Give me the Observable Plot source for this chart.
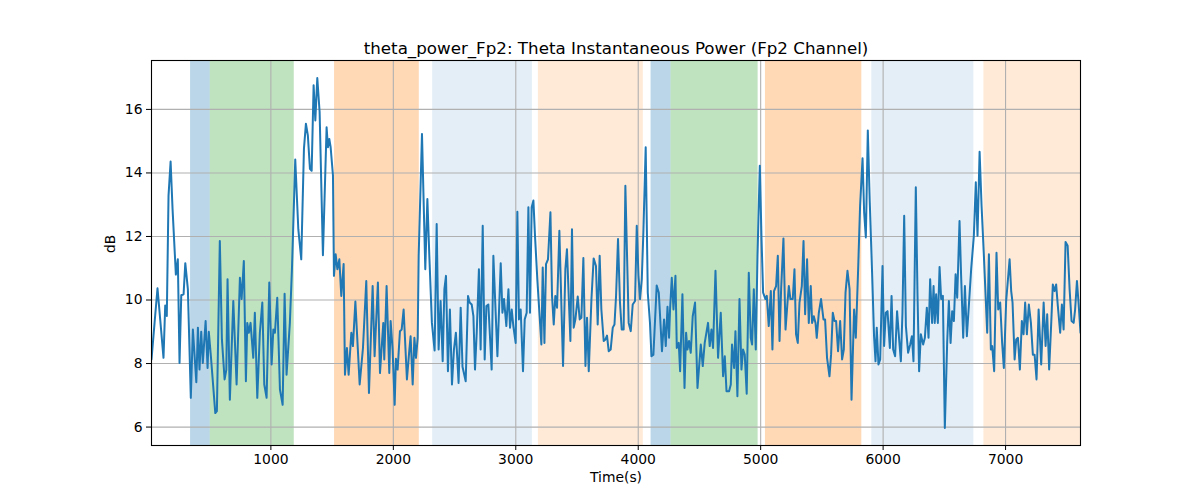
<!DOCTYPE html>
<html><head><meta charset="utf-8">
<script src="https://cdn.jsdelivr.net/npm/d3@7"></script>
<script src="https://cdn.jsdelivr.net/npm/@observablehq/plot@0.6"></script>
<style>body{margin:0;background:#fff;} svg{font-family:"DejaVu Sans",sans-serif;}</style>
</head><body><div id="chart"></div>
<script>
const chartTitle = "theta_power_Fp2: Theta Instantaneous Power (Fp2 Channel)";
const xLabel = "Time(s)";
const yLabel = "dB";
const xTicks = [1000, 2000, 3000, 4000, 5000, 6000, 7000];
const yTicks = [6, 8, 10, 12, 14, 16];

const times = [25,50,74,96,123,137,150,164,181,197,224,240,254,268,287,301,322,346,363,391,404,417,431,444,467,483,493,510,546,559,583,600,622,636,646,
665,693,720,747,761,779,796,807,820,834,856,869,889,910,930,946,965,987,1006,1020,1033,1052,1074,1096,1112,1128,1155,1172,1199,1224,1248,1270,1286,
1302,1319,1333,1349,1363,1379,1398,1425,1455,1466,1477,1488,1507,1515,1529,1543,1559,1575,1594,1605,1621,1635,1657,1670,1690,1725,1752,1779,1801,1831,1847,1874,1891,1918,
1926,1945,1967,1978,1994,2011,2021,2035,2054,2068,2084,2111,2131,2141,2158,2172,2185,2199,2207,2234,2261,2278,2294,2315,2337,2354,2370,2386,2403,2417,2430,2446,2462,2479,2495,2511,2533,2550,2565,
2591,2610,2623,2640,2654,2667,2681,2699,2713,2730,2746,2760,2776,2803,2817,2850,2877,2891,2904,2923,2940,2953,2967,2980,2999,3013,3026,3040,3059,3073,3089,3103,3116,3130,3144,3157,3176,
3209,3220,3234,3247,3263,3283,3296,3310,3323,3337,3356,3386,3405,3418,3446,3459,3473,3487,3506,3522,3536,3552,3569,3582,3596,3618,3636,3655,3669,3685,3699,3718,3732,3745,3759,3775,3792,3806,3819,3835,
3851,3865,3881,3895,3922,3939,3955,3974,3988,4002,4015,4029,4042,4061,4078,4096,4108,4124,4151,4168,4194,4211,4225,4239,4252,4260,4274,4288,4304,4315,4331,4342,4361,4378,4391,4402,4415,4429,4445,4464,
4484,4511,4527,4543,4570,4584,4598,4611,4631,4652,4674,4693,4707,4721,4742,4756,4766,4783,4794,4810,4827,4843,4856,4870,4886,4903,4919,4930,4944,4960,4974,4993,5007,5020,5039,5050,5066,5083,5096,5109,
5126,5140,5154,5167,5186,5203,5219,5230,5243,5262,5276,5289,5303,5317,5336,5350,5363,5379,5393,5409,5420,5434,5448,5458,5475,5493,5513,5526,5542,5562,5575,5589,5603,5616,5632,5649,5665,5679,5693,5709,5726,5742,
5763,5777,5796,5812,5832,5845,5859,5875,5891,5910,5926,5938,5948,5962,5976,5995,6008,6022,6036,6055,6069,6082,6098,6114,6131,6145,6158,6172,6186,6204,6221,6235,6248,6267,6281,6294,6308,6327,6341,6357,6371,6384,
6400,6412,6422,6433,6447,6461,6474,6488,6504,6523,6537,6551,6564,6578,6592,6605,6624,6637,6654,6668,6684,6700,6719,6741,6757,6771,6788,6804,6823,6850,6864,6880,6891,6907,6926,6940,6956,6972,6986,7005,
7033,7046,7057,7074,7087,7101,7117,7133,7147,7160,7174,7190,7207,7223,7237,7253,7270,7291,7311,7327,7340,7356,7373,7386,7400,7413,7427,7446,7460,7474,7490,7507,7523,7539,7556,7568,7583,7596,7612];

const values = [8.13,9.28,10.37,9.39,8.18,9.83,9.5,13.28,14.36,12.86,10.8,11.28,8.02,10.15,10.18,11.16,10.34,6.92,9.07,7.41,9.13,7.81,9.0,8.02,9.34,7.86,9.0,8.23,6.44,6.5,11.86,8.76,7.5,7.8,10.65,
6.86,9.97,7.34,10.7,10.03,11.23,7.44,9.28,8.97,9.28,8.18,9.6,6.92,8.97,9.92,7.34,6.92,10.55,7.97,9.07,8.97,10.07,7.18,6.7,10.2,7.65,9.28,10.97,14.42,12.23,11.28,14.76,15.55,
15.18,14.13,14.07,16.76,15.65,16.99,15.92,11.41,15.44,14.81,15.07,14.81,13.92,10.76,11.44,10.97,11.28,10.13,11.13,7.65,8.49,7.65,8.97,8.55,9.95,7.34,8.49,10.6,7.07,10.44,8.23,10.55,7.7,9.28,
8.13,10.44,7.7,9.34,8.44,6.7,8.15,7.81,9.02,9.07,9.7,7.5,8.44,8.86,7.34,8.81,8.18,8.81,11.39,15.23,10.97,13.18,11.39,9.28,8.41,12.39,8.44,9.97,8.07,10.34,10.76,7.76,9.7,7.34,8.44,8.97,7.39,9.76,7.9,
7.44,10.13,9.92,9.86,9.49,7.81,8.97,10.97,8.44,12.34,8.13,9.81,9.86,7.81,11.39,8.23,11.16,9.6,10.03,9.18,10.34,9.13,9.7,9.18,8.65,12.78,9.39,9.7,7.76,9.39,9.6,12.92,9.6,12.92,13.13,12.02,10.65,
8.6,11.02,8.65,11.13,11.28,12.76,10.13,9.23,10.13,9.76,12.18,7.92,10.97,11.6,8.71,12.23,9.13,9.39,10.11,9.39,9.44,11.32,7.92,9.44,7.76,10.03,11.31,11.07,9.23,11.39,9.7,8.71,8.76,8.88,8.39,8.44,9.13,9.23,10.13,11.92,
9.92,9.07,9.07,13.6,9.28,9.02,9.86,9.97,12.34,10.76,10.03,10.65,12.13,14.81,10.23,9.28,8.23,8.28,10.46,10.23,8.39,9.39,8.55,9.79,8.81,9.7,10.7,9.7,10.76,8.49,8.65,7.76,10.18,7.23,8.97,8.44,8.71,8.34,9.49,9.92,
7.23,8.6,7.92,8.65,9.28,8.55,9.07,8.49,10.92,8.18,9.6,7.6,8.23,7.13,7.13,7.34,8.6,7.86,9.02,6.97,10.03,7.81,8.44,8.28,7.05,10.86,8.81,8.6,10.34,8.44,11.39,14.23,11.92,10.23,10.03,10.13,9.18,10.28,8.44,10.28,
10.44,11.39,8.71,10.34,11.94,9.07,9.92,10.44,10.03,10.03,10.97,8.92,8.65,9.92,10.44,11.86,9.55,11.28,9.28,10.44,9.28,9.49,9.28,8.81,9.6,10.03,9.39,9.39,8.18,7.6,8.28,9.6,9.34,9.34,8.39,9.34,8.13,8.44,10.23,10.92,10.34,6.86,
9.7,8.81,10.97,12.97,14.46,12.76,11.97,15.34,13.07,10.86,8.86,8.07,9.13,7.97,8.13,11.07,8.55,9.6,9.65,8.49,10.13,8.44,8.23,9.65,8.76,8.07,9.6,12.65,9.18,8.34,8.6,8.86,8.07,13.55,10.13,7.76,8.92,8.6,8.81,9.76,8.81,10.65,
9.28,10.44,9.28,10.18,9.28,11.04,10.03,10.13,5.97,8.65,9.97,8.65,9.65,9.34,10.81,10.07,12.49,10.76,8.81,10.44,8.86,9.81,10.97,12.02,13.71,12.02,14.67,12.97,11.39,8.97,11.44,8.44,8.55,7.76,11.49,9.7,9.92,8.65,7.86,9.97,
11.28,10.28,9.92,8.13,8.76,8.81,7.81,9.34,8.92,9.92,8.92,9.86,9.28,8.28,8.28,7.5,9.7,7.97,9.92,8.55,9.55,7.81,9.28,10.49,10.28,10.49,9.81,8.97,9.86,9.07,11.83,11.71,10.34,9.34,9.28,9.7,10.6,9.92,8.97];

const spanStart = [344, 505, 1520, 2321, 3185, 4105, 4268, 5039, 5908, 6823];
const spanEnd   = [505, 1191, 2212, 3136, 4042, 4268, 4979, 5826, 6741, 7612];
const spanKind  = ["blue", "green", "orange", "lightblue", "lightorange", "blue", "green", "orange", "lightblue", "lightorange"];

const kindFill = {
  blue: "rgba(31,119,180,0.3)",
  green: "rgba(44,160,44,0.3)",
  orange: "rgba(255,127,14,0.3)",
  lightblue: "rgba(31,119,180,0.12)",
  lightorange: "rgba(255,127,14,0.16)"
};

const data = times.map((t, i) => ({t, v: values[i]}));
const spans = spanStart.map((s, i) => ({x1: s, x2: spanEnd[i], kind: spanKind[i]}));

const chart = Plot.plot({
  width: 1200, height: 500,
  marginLeft: 151, marginRight: 120, marginTop: 60, marginBottom: 55,
  style: {fontFamily: "DejaVu Sans, sans-serif", fontSize: "13.9px", color: "#000", background: "#fff"},
  x: {domain: [25, 7612]},
  y: {domain: [5.42, 17.54]},
  marks: [
    Plot.rect(spans, {x1: "x1", x2: "x2", fill: d => kindFill[d.kind], clip: true}),
    Plot.gridX(xTicks, {stroke: "#b0b0b0", strokeOpacity: 1, strokeWidth: 1.1}),
    Plot.gridY(yTicks, {stroke: "#b0b0b0", strokeOpacity: 1, strokeWidth: 1.1}),
    Plot.line(data, {x: "t", y: "v", stroke: "#1f77b4", strokeWidth: 2, clip: true}),
    Plot.frame({stroke: "#000", strokeWidth: 1.1}),
    Plot.axisX(xTicks, {tickSize: 5, tickPadding: 4, fontSize: 13.9, label: null, tickFormat: d => String(d)}),
    Plot.axisY(yTicks, {tickSize: 5, tickPadding: 4, fontSize: 13.9, label: null, tickFormat: d => String(d)}),
    Plot.text([chartTitle], {frameAnchor: "top", lineAnchor: "bottom", dy: -7, fontSize: 16.7}),
    Plot.text([xLabel], {frameAnchor: "bottom", dy: 36, fontSize: 13.9}),
    Plot.text([yLabel], {frameAnchor: "left", dx: -41, rotate: -90, fontSize: 13.9})
  ]
});
document.getElementById("chart").appendChild(chart);
</script>
</body></html>
